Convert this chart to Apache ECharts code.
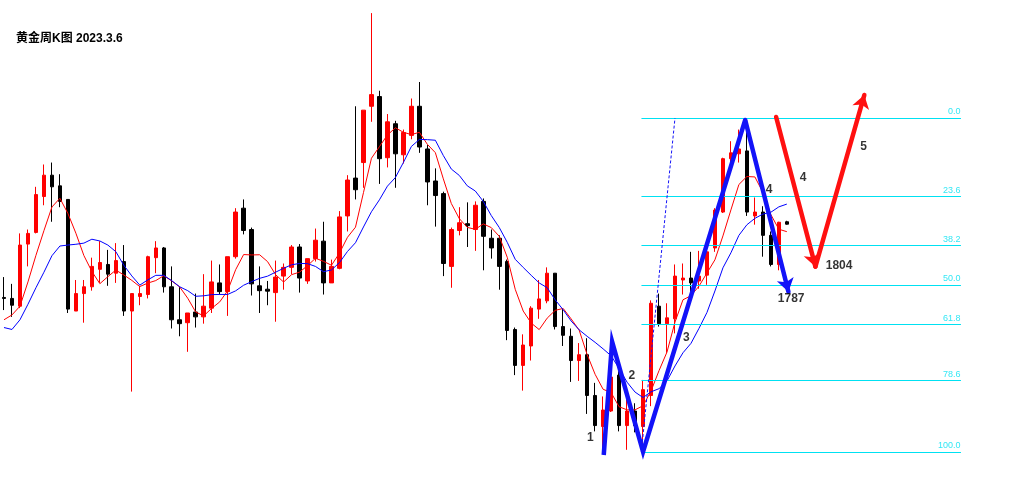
<!DOCTYPE html>
<html><head><meta charset="utf-8">
<script src="https://cdn.jsdelivr.net/npm/echarts/dist/echarts.min.js"></script>
<style>html,body{margin:0;padding:0;background:#fff;}#c{width:1010px;height:477px;}</style>
</head><body><div id="c"></div>
<script>
const chartTitle = '黄金周K图 2023.3.6';
const firstWeek = '2021-04-19';
const totalSlots = 126;

const opens = [1775,1774,1766,1830,1842,1879,1901,1890,1876,1761,
1779,1786,1804,1809,1800,1812,1761,1776,1778,1816,
1826,1786,1752,1749,1760,1755,1764,1790,1781,1817,
1867,1845,1787,1783.5,1780,1797,1806,1827,1792,1815,
1833,1790,1805,1859,1898,1914,1972,1982,1919,1954,
1922,1942,1972,1928,1895,1882,1807,1844,1851,1845,
1874,1836,1836,1812,1742,1705,1725,1763,1771.5,1800,
1745,1735,1710,1716,1674,1642,1658,1695,1643,1658,
1642,1674,1766,1748,1753,1793,1795,1792,1798,1826,
1863,1918,1923,1926,1859,1863,1839,1809,1853];
const closes = [1774,1767,1829,1841,1881,1901,1889,1874,1763,1779,
1786,1807,1811,1799,1813,1761,1779,1779,1817,1826,
1786,1752,1748,1759,1755,1766,1791,1781,1817,1863,
1844,1789,1782,1781.5,1796,1806,1827,1795,1815,1834,
1790,1807,1858,1896,1886,1968,1984,1918,1956,1923,
1945,1972,1930,1894,1880,1810,1845,1852,1849,1870,
1838,1826,1807,1741,1705,1726,1764,1773.5,1800,1745,
1736,1710,1716,1674,1643,1659,1693,1643,1658,1643,
1680,1769,1748,1754,1797,1795,1790,1797,1822,1865,
1918,1924,1928,1863,1863,1839,1809,1852.5,1850.5];
const lows = [1762,1755,1764,1807,1841,1870,1853,1868,1759,1761,
1749,1782,1790,1787,1790,1756,1678,1767,1774,1800,
1780,1743,1735,1719,1744,1748,1759,1778,1756,1815,
1840,1777,1759,1767,1750,1783,1799,1780,1789,1812,
1778,1790,1804,1843,1876,1888,1956,1892,1909,1888,
1913,1938,1924,1870,1848,1797,1785,1839,1827,1823,
1803,1815,1783,1731,1695,1679,1710,1753,1769,1742,
1725,1688,1689,1655,1637,1614,1657,1637,1618,1636,
1617,1663,1745,1718,1738,1778,1778,1784,1788,1822,
1862,1909,1914,1859,1850,1817,1807,1803,1850];
const highs = [1796,1789,1841,1845,1889,1912,1914,1902,1876,1793,
1793,1816,1833,1824,1831,1829,1779,1787,1818,1833,
1827,1807,1786,1759,1779,1799,1813,1809,1817,1867,
1876,1847,1807,1792,1813,1810,1829,1830,1815,1846,
1853,1814,1864,1901,1972,1968,2068,1988,1964,1957,
1948,1980,1997,1932,1908,1884,1847,1868,1873,1874,
1877,1845,1839,1814,1744,1737,1766,1793,1806,1800,
1763,1743,1728,1733,1687,1673,1729,1699,1670,1666,
1690,1772,1779,1769,1809,1810,1822,1823,1825,1867,
1919,1936,1948,1956,1878,1869,1843,1853,1854];

// moving-average values before enough history is visible
const ma5Head = [1752,1757,1766,1791];
const ma10Head = [1744,1742,1752,1768,1785,1801,1818,1828,1829];

// Fibonacci retracement
const fibHigh = 1960, fibLow = 1616;
const fibLevels = [0, 23.6, 38.2, 50, 61.8, 78.6, 100];
const fibLabels = ['0.0','23.6','38.2','50.0','61.8','78.6','100.0'];
const fibStart = 79.8, fibEnd = 119.8;

// wave drawing (x in week index, y in price)
const waveX = [75.08, 76.13, 80.0, 92.79, 98.2];
const waveY = [1612.7, 1729.4, 1616.1, 1957.9, 1780.9];
const dashX = [79.79, 84.0];
const dashY = [1615.8, 1959.9];
const fcX = [96.66, 101.58, 107.7];
const fcY = [1960.9, 1806.7, 1983.6];

const annoTexts = ['1','2','3','4','4','5','1804','1787'];
const annoX = [73.41, 78.6, 85.41, 95.79, 100.04, 107.6, 104.54, 98.54];
const annoY = [1630.2, 1694.1, 1733.2, 1886.2, 1898.6, 1930.0, 1808.1, 1773.4];

// ---- build ----
const weeks = [];
const d0 = new Date(firstWeek + 'T00:00:00Z');
for (let i = 0; i < totalSlots; i++) {
  const d = new Date(d0.getTime() + i * 7 * 86400000);
  weeks.push(d.toISOString().slice(0, 10));
}
const candles = opens.map((o, i) => [o, closes[i], lows[i], highs[i]]);
function ma(n, head) {
  return closes.map((c, i) => {
    if (i < n - 1) return head[i];
    let s = 0;
    for (let k = i - n + 1; k <= i; k++) s += closes[k];
    return +(s / n).toFixed(2);
  });
}
const ma5 = ma(5, ma5Head);
const ma10 = ma(10, ma10Head);
const fibPrices = fibLevels.map(l => fibHigh - (fibHigh - fibLow) * l / 100);

const CYAN = '#00E1F2';
const BLUE = '#1212F8';
const RED = '#FF1010';
const FONT = "'Liberation Sans', Arial, 'Noto Sans CJK SC', sans-serif";

const chart = echarts.init(document.getElementById('c'), null, {renderer: 'canvas'});
chart.setOption({
  animation: false,
  backgroundColor: '#ffffff',
  title: {
    text: chartTitle, left: 16, top: 33, padding: 0,
    textStyle: {fontSize: 12, fontWeight: 'bold', color: '#000', fontFamily: FONT}
  },
  grid: {left: -1.5, top: 0, width: 1008, height: 477, containLabel: false},
  xAxis: [
    {type: 'category', data: weeks, show: false, boundaryGap: true},
    {type: 'value', min: -0.5, max: totalSlots - 0.5, show: false}
  ],
  yAxis: {type: 'value', min: 1590, max: 2081.5, show: false, splitLine: {show: false}},
  series: [
    {
      type: 'candlestick', xAxisIndex: 0, data: candles, barWidth: 4, z: 2,
      itemStyle: {color: '#FF0000', color0: '#000000', borderColor: '#FF0000', borderColor0: '#000000', borderWidth: 1}
    },
    {type: 'line', xAxisIndex: 0, data: ma5, symbol: 'none', z: 3,
     lineStyle: {color: '#FF0000', width: 1}},
    {type: 'line', xAxisIndex: 0, data: ma10, symbol: 'none', z: 3,
     lineStyle: {color: '#0000FF', width: 1}},
    {type: 'lines', coordinateSystem: 'cartesian2d', xAxisIndex: 1, z: 4,
     lineStyle: {color: CYAN, width: 1.2, opacity: 1},
     data: fibPrices.map(p => ({coords: [[fibStart, p], [fibEnd, p]]}))},
    {type: 'scatter', xAxisIndex: 1, z: 4, symbolSize: 1,
     itemStyle: {color: 'rgba(0,0,0,0)'},
     label: {show: true, position: [0, -1], align: 'right', verticalAlign: 'bottom',
             color: CYAN, fontSize: 9, fontFamily: FONT,
             formatter: p => p.value[2]},
     data: fibPrices.map((p, i) => [fibEnd, p, fibLabels[i]])},
    {type: 'line', xAxisIndex: 1, z: 5, symbol: 'none',
     lineStyle: {color: BLUE, width: 1, type: [3, 2]},
     data: dashX.map((x, i) => [x, dashY[i]])},
    {type: 'line', xAxisIndex: 1, z: 6, symbol: 'none',
     lineStyle: {color: BLUE, width: 4.5, join: 'miter'},
     data: waveX.slice(0, 4).map((x, i) => [x, waveY[i]])},
    {type: 'lines', coordinateSystem: 'cartesian2d', xAxisIndex: 1, z: 6,
     symbol: ['none', 'arrow'], symbolSize: 13,
     lineStyle: {color: BLUE, width: 4.5, opacity: 1, cap: 'round'},
     data: [{coords: [[waveX[3], waveY[3]], [waveX[4], waveY[4]]]}]},
    {type: 'lines', coordinateSystem: 'cartesian2d', xAxisIndex: 1, z: 6,
     symbol: ['none', 'arrow'], symbolSize: 13,
     lineStyle: {color: RED, width: 4.5, opacity: 1, cap: 'round'},
     data: [{coords: [[fcX[0], fcY[0]], [fcX[1], fcY[1]]]},
            {coords: [[fcX[1], fcY[1]], [fcX[2], fcY[2]]]}]},
    {type: 'scatter', xAxisIndex: 1, z: 7, symbolSize: 1,
     itemStyle: {color: 'rgba(0,0,0,0)'},
     label: {show: true, position: 'inside', color: '#000', fontSize: 12, fontWeight: 'bold',
             fontFamily: FONT, formatter: p => p.value[2]},
     data: annoTexts.map((t, i) => [annoX[i], annoY[i], t])}
  ]
});
</script>
</body></html>
